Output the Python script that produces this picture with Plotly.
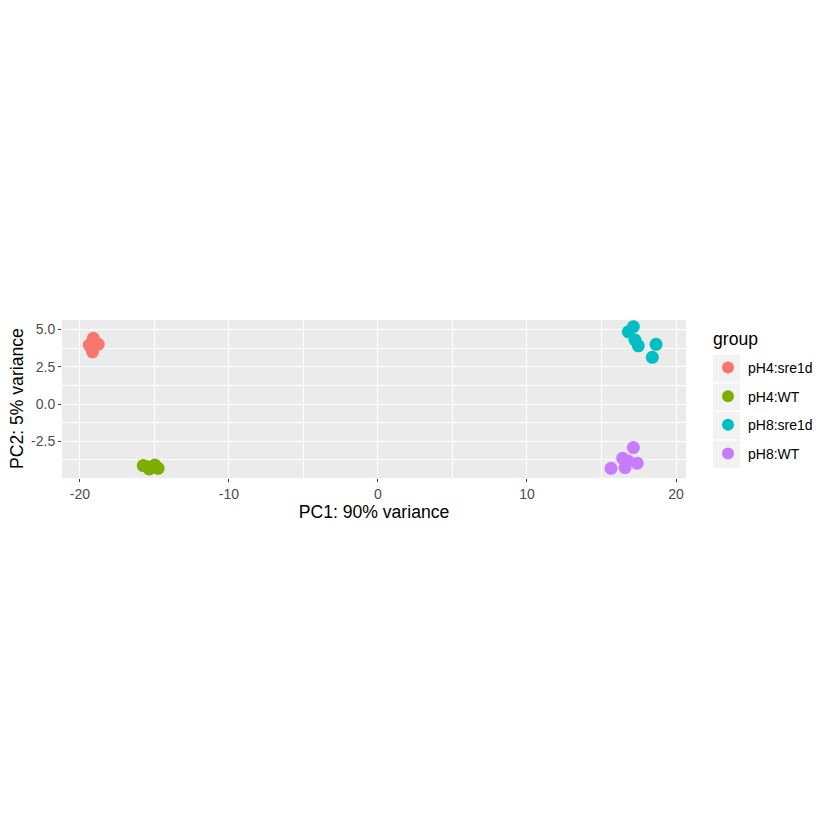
import plotly.graph_objects as go

groups = ["pH4:sre1d", "pH4:WT", "pH8:sre1d", "pH8:WT"]
colors = ["#F8766D", "#7CAE00", "#00BFC4", "#C77CFF"]
pc1 = {
    "pH4:sre1d": [-19.1, -19.37, -18.77, -19.15, -19.2],
    "pH4:WT": [-15.75, -14.97, -15.35, -14.75, -15.5],
    "pH8:sre1d": [17.14, 16.8, 17.25, 17.47, 18.66, 18.41],
    "pH8:WT": [17.14, 16.42, 17.4, 16.58, 15.64, 16.78],
}
pc2 = {
    "pH4:sre1d": [4.4, 3.95, 4.0, 3.5, 3.7],
    "pH4:WT": [-4.13, -4.09, -4.35, -4.31, -4.2],
    "pH8:sre1d": [5.18, 4.84, 4.29, 3.9, 4.0, 3.13],
    "pH8:WT": [-2.92, -3.64, -3.97, -4.26, -4.31, -3.82],
}
x_ticks = [-20, -10, 0, 10, 20]
x_ticklabels = ["-20", "-10", "0", "10", "20"]
y_ticks = [-2.5, 0.0, 2.5, 5.0]
y_ticklabels = ["-2.5", "0.0", "2.5", "5.0"]
x_title = "PC1: 90% variance"
y_title = "PC2: 5% variance"
legend_title = "group"

# page layout (the html body adds an 8px offset)
OFF = 8
PX_L, PX_R, PX_T, PX_B = 62, 686, 320, 478
W = H = 840

fig = go.Figure()
for g, c in zip(groups, colors):
    fig.add_trace(go.Scatter(
        x=pc1[g], y=pc2[g], mode="markers", name=g, legendgroup=g,
        marker=dict(color=c, size=13, line=dict(width=0)),
    ))

font = "Liberation Sans, Arial, sans-serif"
axis_common = dict(
    showgrid=True, gridcolor="white", gridwidth=1.3,
    zeroline=False, showline=False, automargin=False,
    ticks="outside", ticklen=3, tickcolor="#333333", tickwidth=1,
    tickfont=dict(family=font, size=14, color="#4D4D4D"),
)
fig.update_xaxes(
    range=[-21.2, 20.67], tickvals=x_ticks, ticktext=x_ticklabels,
    title=dict(text=x_title, font=dict(family=font, size=17.6, color="black"), standoff=2),
    minor=dict(dtick=5, tick0=0, showgrid=True, gridcolor="white", gridwidth=0.6, ticks=""),
    **axis_common,
)
fig.update_yaxes(
    range=[-4.96, 5.63], tickvals=y_ticks, ticktext=y_ticklabels,
    minor=dict(dtick=2.5, tick0=1.25, showgrid=True, gridcolor="white", gridwidth=0.6, ticks=""),
    **axis_common,
)

pw = PX_R - PX_L
ph = PX_B - PX_T
def fx(px):
    return (px - PX_L) / pw
def fy(py):
    return (PX_B - py) / ph

# legend key backgrounds (ggplot style)
shapes = []
for i in range(len(groups)):
    cy = 368.3 + 28.67 * i
    shapes.append(dict(type="rect", xref="paper", yref="paper",
                       x0=fx(713), x1=fx(740), y0=fy(cy + 13.6), y1=fy(cy - 13.6),
                       fillcolor="#F2F2F2", line=dict(width=0), layer="below"))

fig.update_layout(
    width=W, height=H,
    margin=dict(l=PX_L - OFF, r=W + OFF - PX_R, t=PX_T - OFF, b=H + OFF - PX_B),
    paper_bgcolor="white", plot_bgcolor="#EBEBEB",
    font=dict(family=font),
    shapes=shapes,
    annotations=[
        dict(text=legend_title, xref="paper", yref="paper", x=fx(711), y=fy(339),
             xanchor="left", yanchor="middle", showarrow=False,
             font=dict(family=font, size=17.6, color="black")),
        dict(text=y_title, xref="paper", yref="paper", x=fx(17), y=0.5,
             xanchor="center", yanchor="middle", textangle=-90, showarrow=False,
             font=dict(family=font, size=17.6, color="black")),
    ],
    legend=dict(
        font=dict(family=font, size=14, color="black"),
        x=fx(708), xanchor="left", y=fy(352), yanchor="top",
        bgcolor="rgba(0,0,0,0)", itemsizing="constant",
        traceorder="grouped", tracegroupgap=7.4,
    ),
    showlegend=True,
)
fig.write_html("out.html")
